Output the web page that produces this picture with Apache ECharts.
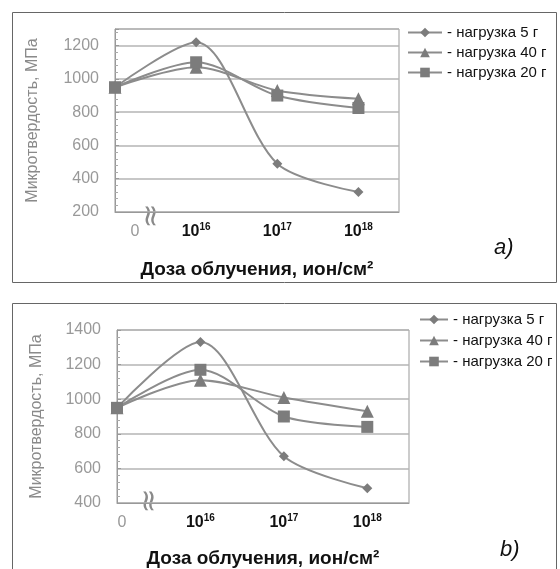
<!DOCTYPE html>
<html>
<head>
<meta charset="utf-8">
<script src="https://cdn.jsdelivr.net/npm/echarts@6/dist/echarts.min.js"></script>
<style>
  html, body { margin: 0; padding: 0; background: #fff; }
  #main { width: 560px; height: 569px; }
</style>
</head>
<body>
<div id="main"></div>
<script>
// dose positions on the x axis (0, 1e16, 1e17, 1e18 drawn evenly)
const dosePos = [0, 1, 2, 3]
const doseLabels = ['0', '10^16', '10^17', '10^18']
const loadNames = ['- нагрузка 5 г', '- нагрузка 40 г', '- нагрузка 20 г']

// chart a)
const aLoad5 = [950, 1220, 490, 320]
const aLoad40 = [950, 1070, 930, 880]
const aLoad20 = [950, 1100, 900, 825]

// chart b)
const bLoad5 = [950, 1330, 670, 485]
const bLoad40 = [950, 1110, 1010, 930]
const bLoad20 = [950, 1170, 900, 840]

const font = 'Liberation Sans, Arial, sans-serif'
const lineColor = '#8c8c8c'
const markColor = '#7c7c7c'
const symbols = ['diamond', 'triangle', 'rect']
const symbolSizes = [10, 13, 12]

var chart = echarts.init(document.getElementById('main'))

function xAxisFor(gridIndex, zeroPad, nameGap) {
    return {
        gridIndex: gridIndex,
        type: 'value',
        min: 0,
        max: 3.5,
        interval: 1,
        name: 'Доза облучения, ион/см²',
        nameLocation: 'middle',
        nameGap: nameGap,
        nameTextStyle: { fontFamily: font, fontSize: 19, fontWeight: 'bold', color: '#111' },
        axisLine: { show: true, onZero: false, lineStyle: { color: '#999' } },
        axisTick: { show: false },
        splitLine: { show: false },
        axisLabel: {
            showMaxLabel: false,
            margin: 10,
            formatter: function (v) {
                const s = doseLabels[Math.round(v)]
                if (!s) return ''
                if (s.indexOf('^') < 0) return '{z|' + s + '}'
                const p = s.split('^')
                return '{b|' + p[0] + '}{s|' + p[1] + '}'
            },
            rich: {
                z: { fontFamily: font, fontSize: 16, color: '#999', padding: [0, 0, 0, zeroPad], lineHeight: 20 },
                b: { fontFamily: font, fontSize: 16, fontWeight: 'bold', color: '#111', lineHeight: 20 },
                s: { fontFamily: font, fontSize: 10, fontWeight: 'bold', color: '#111', verticalAlign: 'top', lineHeight: 10 }
            }
        }
    }
}

function yAxisFor(gridIndex, min, max, nameGap) {
    return {
        gridIndex: gridIndex,
        type: 'value',
        min: min,
        max: max,
        interval: 200,
        name: 'Микротвердость, МПа',
        nameLocation: 'middle',
        nameGap: nameGap,
        nameTextStyle: { fontFamily: font, fontSize: 16, color: '#8a8a8a' },
        axisLine: { show: true, lineStyle: { color: '#999' } },
        axisTick: { show: true, inside: true, length: 4, lineStyle: { color: '#999' } },
        minorTick: { show: true, splitNumber: 5, length: 3, lineStyle: { color: '#aaa' } },
        splitLine: { show: true, lineStyle: { color: '#b5b5b5', width: 1.5 } },
        axisLabel: {
            showMaxLabel: max % 200 === 0, margin: 16, fontFamily: font, fontSize: 16, color: '#999',
            formatter: v => String(v)
        }
    }
}

function seriesFor(axisIndex, values, k) {
    return {
        type: 'line',
        name: loadNames[k],
        xAxisIndex: axisIndex,
        yAxisIndex: axisIndex,
        smooth: 0.3,
        symbol: symbols[k],
        symbolSize: symbolSizes[k],
        showAllSymbol: true,
        lineStyle: { color: lineColor, width: 2 },
        itemStyle: { color: markColor },
        data: dosePos.map((x, i) => [x, values[i]])
    }
}

function legendFor(left, top, itemWidth, itemGap) {
    return {
        data: loadNames,
        orient: 'vertical',
        left: left,
        top: top,
        padding: 0,
        itemWidth: itemWidth,
        itemHeight: 12,
        itemGap: itemGap,
        selectedMode: false,
        textStyle: { fontFamily: font, fontSize: 15, color: '#111' }
    }
}

// wavy axis-break mark: a rotated "≈"
function breakMark(x, y) {
    return {
        type: 'text', x: x, y: y, rotation: Math.PI / 2,
        style: { text: '≈', fontFamily: 'DejaVu Sans', fontSize: 30, fill: '#8a8a8a', align: 'center', verticalAlign: 'middle' }
    }
}

chart.setOption({
    animation: false,
    grid: [
        { left: 115, top: 29, width: 284, height: 183, show: true, borderColor: '#999', borderWidth: 1 },
        { left: 117, top: 330, width: 292, height: 176, show: true, borderColor: '#999', borderWidth: 1 }
    ],
    legend: [legendFor(407, 25, 34, 5), legendFor(419, 312, 28, 6)],
    xAxis: [xAxisFor(0, 40, 48), xAxisFor(1, 10, 46)],
    yAxis: [yAxisFor(0, 200, 1300, 74), yAxisFor(1, 400, 1400, 72)],
    series: [
        seriesFor(0, aLoad5, 0), seriesFor(0, aLoad40, 1), seriesFor(0, aLoad20, 2),
        seriesFor(1, bLoad5, 0), seriesFor(1, bLoad40, 1), seriesFor(1, bLoad20, 2)
    ],
    graphic: [
        // panel frames
        { type: 'rect', shape: { x: 12.5, y: 12.5, width: 544, height: 270 }, style: { fill: 'none', stroke: '#666', lineWidth: 1 }, z: -1 },
        { type: 'rect', shape: { x: 12.5, y: 303.5, width: 544, height: 280 }, style: { fill: 'none', stroke: '#666', lineWidth: 1 }, z: -1 },
        breakMark(152, 216),
        breakMark(150, 501),
        // panel letters
        { type: 'text', left: 494, top: 237, style: { text: 'a)', fontFamily: font, fontSize: 22, fontStyle: 'italic', fill: '#111' } },
        { type: 'text', left: 500, top: 539, style: { text: 'b)', fontFamily: font, fontSize: 22, fontStyle: 'italic', fill: '#111' } }
    ]
})
</script>
</body>
</html>
